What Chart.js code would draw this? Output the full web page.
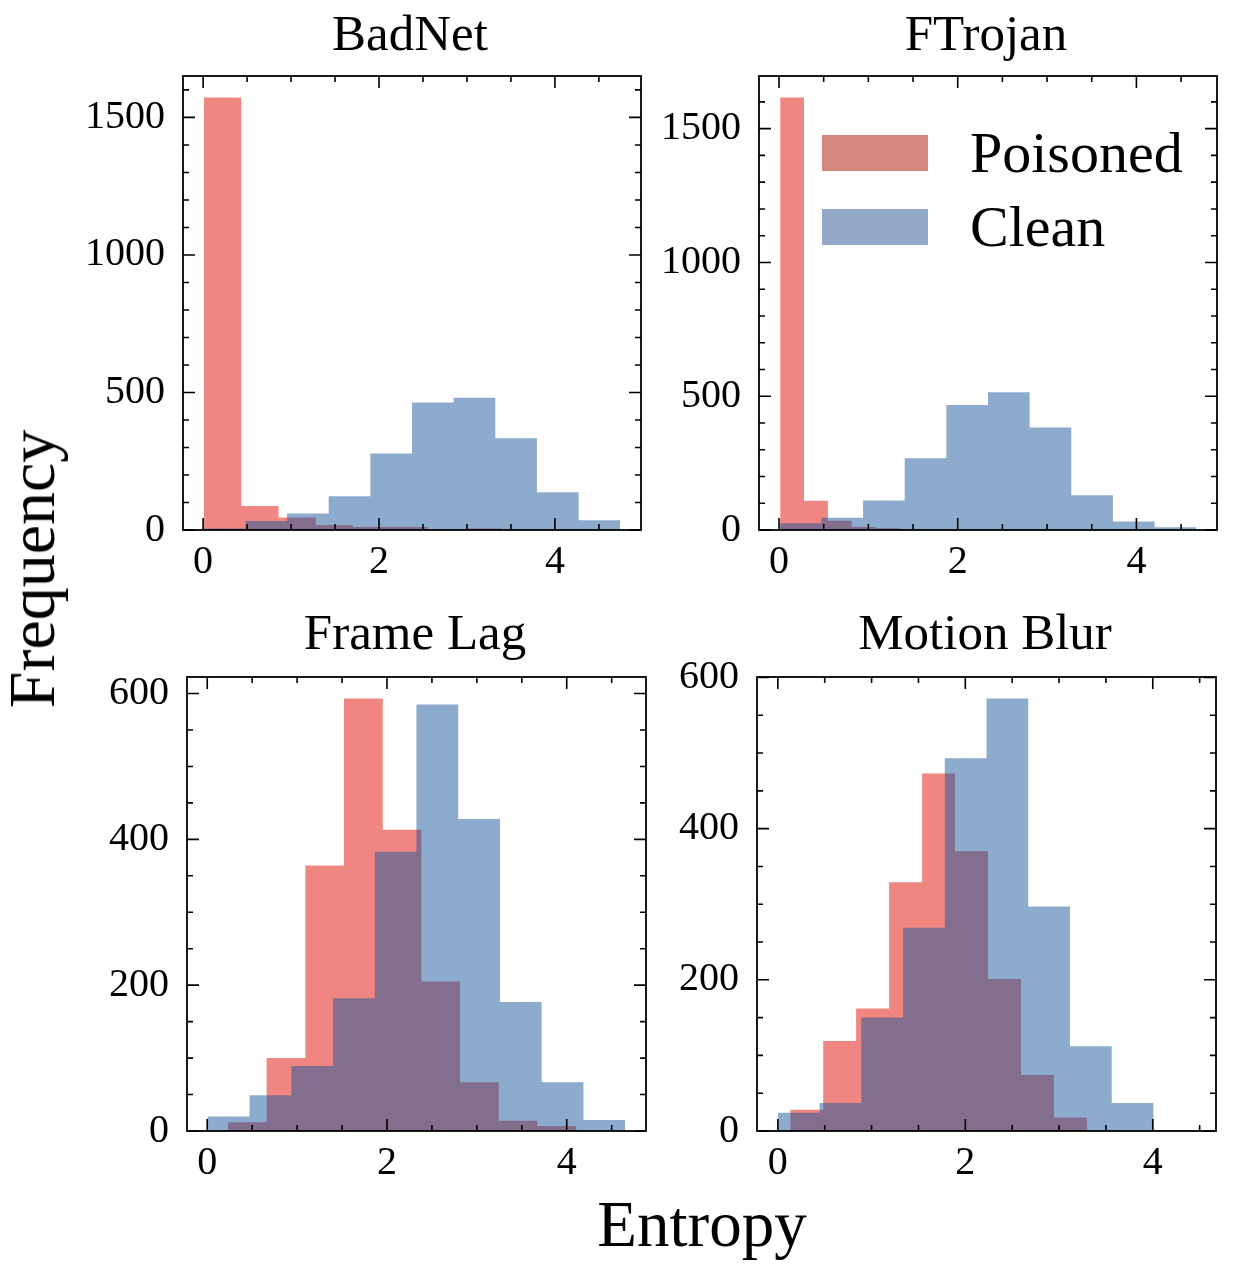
<!DOCTYPE html>
<html><head><meta charset="utf-8">
<script src="https://cdn.jsdelivr.net/npm/chart.js@4.4.0/dist/chart.umd.min.js"></script>
<style>
html,body{margin:0;padding:0;background:#fff;}
body{width:1242px;height:1266px;position:relative;overflow:hidden;font-family:'Liberation Serif',serif;}
canvas{position:absolute;}
.t{position:absolute;line-height:1;white-space:nowrap;color:#000;font-family:'Liberation Serif',serif;}
.patch{position:absolute;}
</style></head><body>
<canvas id="c0"></canvas><canvas id="c1"></canvas><canvas id="c2"></canvas><canvas id="c3"></canvas>
<div class="t" style="left:410px;top:8px;font-size:51px;transform:translateX(-50%);">BadNet</div>
<div class="t" style="left:986px;top:8px;font-size:51px;transform:translateX(-50%);">FTrojan</div>
<div class="t" style="left:415px;top:607px;font-size:51px;transform:translateX(-50%);">Frame Lag</div>
<div class="t" style="left:985px;top:607px;font-size:51px;transform:translateX(-50%);">Motion Blur</div>
<div class="t" style="left:702px;top:1192px;font-size:65px;transform:translateX(-50%);">Entropy</div>
<div class="t" style="left:32px;top:569px;font-size:66px;transform:translate(-50%,-50%) rotate(-90deg);">Frequency</div>
<div class="patch" style="left:822px;top:135px;width:106px;height:36px;background:rgb(213,135,128);"></div>
<div class="patch" style="left:822px;top:209px;width:106px;height:36px;background:rgb(149,170,202);"></div>
<div class="t" id="lg0" style="left:970px;top:124px;font-size:58px;">Poisoned</div>
<div class="t" id="lg1" style="left:970px;top:198px;font-size:58px;">Clean</div>
<script>
// ---------------- data ----------------
const seriesNames = ['Poisoned', 'Clean'];
const panelTitles = ['BadNet', 'FTrojan', 'Frame Lag', 'Motion Blur'];
const xTickValues = [0, 2, 4];
const yTickValuesTop = [0, 500, 1000, 1500];
const yTickValuesBottom = [0, 200, 400, 600];

const badnetPoisonedEdges = [0.010, 0.434, 0.857, 1.281, 1.705, 2.128, 2.552, 2.975, 3.399, 3.822, 4.246];
const badnetPoisoned      = [1572, 87, 45, 18, 11, 11, 3, 5, 1, 1];
const badnetCleanEdges    = [0.008, 0.481, 0.955, 1.428, 1.902, 2.375, 2.848, 3.322, 3.795, 4.269, 4.742];
const badnetClean         = [5, 33, 60, 123, 278, 464, 481, 334, 137, 35];

const ftrojanPoisonedEdges = [0.013, 0.280, 0.547, 0.814, 1.081, 1.348, 1.615, 1.882, 2.149, 2.416, 2.683];
const ftrojanPoisoned      = [1616, 109, 35, 11, 7, 3, 2, 1, 0, 1];
const ftrojanCleanEdges    = [0.009, 0.475, 0.941, 1.407, 1.873, 2.339, 2.805, 3.271, 3.737, 4.203, 4.669];
const ftrojanClean         = [25, 46, 110, 268, 467, 515, 383, 130, 32, 10];

const frameLagPoisonedEdges = [0.231, 0.661, 1.092, 1.522, 1.953, 2.383, 2.813, 3.244, 3.674, 4.104, 4.535];
const frameLagPoisoned      = [12, 100, 364, 593, 413, 205, 67, 14, 7, 1];
const frameLagCleanEdges    = [0.007, 0.471, 0.936, 1.400, 1.864, 2.328, 2.793, 3.257, 3.721, 4.186, 4.650];
const frameLagClean         = [20, 49, 89, 182, 383, 585, 428, 177, 67, 15];

const motionBlurPoisonedEdges = [0.132, 0.484, 0.835, 1.187, 1.539, 1.890, 2.242, 2.594, 2.945, 3.297, 3.649];
const motionBlurPoisoned      = [28, 119, 162, 329, 473, 370, 201, 74, 18, 1];
const motionBlurCleanEdges    = [0.000, 0.445, 0.890, 1.336, 1.781, 2.226, 2.671, 3.116, 3.562, 4.007, 4.452];
const motionBlurClean         = [24, 37, 150, 269, 493, 572, 297, 112, 37, 1];

// ---------------- layout / style ----------------
const poisonedFill = 'rgba(225,13,5,0.5)';
const cleanFill = 'rgba(25,88,155,0.5)';
const FONT = "'Liberation Serif', serif";
const PAD_L = 130, PAD_T = 40, PAD_R = 20, PAD_B = 70;

const panels = [
  {id:'c0', L:183, T:74,  W:458, H:456, pe:badnetPoisonedEdges, pc:badnetPoisoned, ce:badnetCleanEdges, cc:badnetClean, yt:yTickValuesTop, yMinor:100},
  {id:'c1', L:759, T:74,  W:458, H:456, pe:ftrojanPoisonedEdges, pc:ftrojanPoisoned, ce:ftrojanCleanEdges, cc:ftrojanClean, yt:yTickValuesTop, yMinor:100},
  {id:'c2', L:187, T:675, W:459, H:456, pe:frameLagPoisonedEdges, pc:frameLagPoisoned, ce:frameLagCleanEdges, cc:frameLagClean, yt:yTickValuesBottom, yMinor:50},
  {id:'c3', L:757, T:675, W:459, H:456, pe:motionBlurPoisonedEdges, pc:motionBlurPoisoned, ce:motionBlurCleanEdges, cc:motionBlurClean, yt:yTickValuesBottom, yMinor:50},
];

function histPoints(edges, counts) {
  const pts = counts.map((c, i) => ({x: edges[i], y: c}));
  pts.push({x: edges[edges.length - 1], y: 0});
  return pts;
}

const frameTicks = {
  id: 'frameTicks',
  afterDatasetsDraw(chart, args, opts) {
    const {ctx, chartArea: a, scales: {x, y}} = chart;
    ctx.save();
    ctx.strokeStyle = '#000';
    ctx.lineWidth = 1.6;
    ctx.beginPath();
    const MAJ = 12, MIN = 6;
    const xt = (v, len) => { const p = x.getPixelForValue(v); ctx.moveTo(p, a.bottom); ctx.lineTo(p, a.bottom - len); ctx.moveTo(p, a.top); ctx.lineTo(p, a.top + len); };
    const yt = (v, len) => { const p = y.getPixelForValue(v); ctx.moveTo(a.left, p); ctx.lineTo(a.left + len, p); ctx.moveTo(a.right, p); ctx.lineTo(a.right - len, p); };
    const xs = opts.xMinor, ys = opts.yMinor;
    for (let k = Math.ceil(x.min / xs); k * xs <= x.max; k++) {
      const v = k * xs; const isMaj = opts.xMajor.some(m => Math.abs(m - v) < 1e-9);
      xt(v, isMaj ? MAJ : MIN);
    }
    for (let k = Math.ceil(y.min / ys); k * ys <= y.max; k++) {
      const v = k * ys; const isMaj = opts.yMajor.some(m => Math.abs(m - v) < 1e-9);
      yt(v, isMaj ? MAJ : MIN);
    }
    ctx.stroke();
    ctx.lineWidth = 1.8;
    ctx.strokeRect(a.left, a.top, a.right - a.left, a.bottom - a.top);
    ctx.restore();
  }
};

panels.forEach(p => {
  const cv = document.getElementById(p.id);
  const cw = p.W + PAD_L + PAD_R, ch = p.H + PAD_T + PAD_B;
  cv.width = cw; cv.height = ch;
  cv.style.width = cw + 'px'; cv.style.height = ch + 'px';
  cv.style.left = (p.L - PAD_L) + 'px'; cv.style.top = (p.T - PAD_T) + 'px';
  const allEdges = p.pe.concat(p.ce);
  const xmin = Math.min(...allEdges), xmax = Math.max(...allEdges);
  const xpad = 0.05 * (xmax - xmin);
  const ymax = 1.05 * Math.max(...p.pc, ...p.cc);
  new Chart(cv, {
    type: 'line',
    data: {
      datasets: [
        {label: seriesNames[1], data: histPoints(p.ce, p.cc), stepped: 'before', fill: 'origin',
         backgroundColor: cleanFill, borderColor: 'rgba(0,0,0,0)', borderWidth: 0, pointRadius: 0, pointHoverRadius: 0},
        {label: seriesNames[0], data: histPoints(p.pe, p.pc), stepped: 'before', fill: 'origin',
         backgroundColor: poisonedFill, borderColor: 'rgba(0,0,0,0)', borderWidth: 0, pointRadius: 0, pointHoverRadius: 0},
      ]
    },
    options: {
      responsive: false, animation: false, devicePixelRatio: 1,
      layout: {padding: {top: PAD_T, right: PAD_R, left: 0, bottom: 0}},
      plugins: {legend: {display: false}, tooltip: {enabled: false},
        frameTicks: {xMinor: 0.5, yMinor: p.yMinor, xMajor: xTickValues, yMajor: p.yt}},
      scales: {
        x: {type: 'linear', min: xmin - xpad, max: xmax + xpad,
            grid: {display: false, drawTicks: false}, border: {display: false},
            afterBuildTicks: s => { s.ticks = xTickValues.map(v => ({value: v})); },
            afterFit: s => { s.height = PAD_B; },
            ticks: {color: '#000', padding: 8, maxRotation: 0, font: {family: FONT, size: 40}, callback: v => String(v)}},
        y: {type: 'linear', min: 0, max: ymax,
            grid: {display: false, drawTicks: false}, border: {display: false},
            afterBuildTicks: s => { s.ticks = p.yt.map(v => ({value: v})); },
            afterFit: s => { s.width = PAD_L; },
            ticks: {color: '#000', padding: 18, font: {family: FONT, size: 40}, callback: v => String(v)}}
      }
    },
    plugins: [frameTicks]
  });
});
</script>
</body></html>
